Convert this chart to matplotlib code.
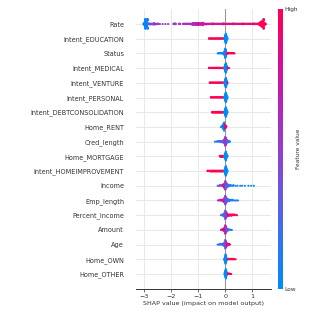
import numpy as np
import matplotlib
matplotlib.use("Agg")
import matplotlib.pyplot as plt
from matplotlib.colors import LinearSegmentedColormap

# feature names, top row first
features = ["Rate", "Intent_EDUCATION", "Status", "Intent_MEDICAL", "Intent_VENTURE",
            "Intent_PERSONAL", "Intent_DEBTCONSOLIDATION", "Home_RENT", "Cred_length",
            "Home_MORTGAGE", "Intent_HOMEIMPROVEMENT", "Income", "Emp_length",
            "Percent_income", "Amount", "Age", "Home_OWN", "Home_OTHER"]

# (shap value, feature value 0..1, number of points)
rate = [(-3.00, 0.02, 3), (-2.97, 0.03, 10), (-2.94, 0.02, 22), (-2.91, 0.03, 30), (-2.88, 0.05, 22),
        (-2.85, 0.08, 10), (-2.82, 0.15, 4), (-2.78, 0.4, 3), (-2.74, 0.45, 3), (-2.70, 0.5, 3),
        (-2.66, 0.5, 3), (-2.62, 0.5, 3), (-2.58, 0.55, 3), (-2.54, 0.55, 3), (-2.50, 0.55, 2),
        (-2.46, 0.5, 2), (-2.40, 0.55, 1), (-2.30, 0.55, 1), (-2.20, 0.55, 1), (-2.10, 0.55, 1),
        (-1.90, 0.55, 2), (-1.86, 0.55, 2), (-1.82, 0.55, 2), (-1.70, 0.6, 2), (-1.66, 0.6, 2),
        (-1.55, 0.6, 2), (-1.51, 0.6, 2), (-1.47, 0.6, 2), (-1.43, 0.6, 2), (-1.39, 0.6, 2),
        (-1.35, 0.6, 2), (-1.31, 0.6, 2), (-1.27, 0.6, 3), (-1.23, 0.62, 3), (-1.19, 0.62, 4),
        (-1.15, 0.65, 5), (-1.11, 0.65, 6), (-1.07, 0.68, 7), (-1.03, 0.7, 7), (-0.99, 0.7, 7),
        (-0.95, 0.72, 6), (-0.91, 0.72, 5), (-0.87, 0.72, 5), (-0.83, 0.72, 4), (-0.79, 0.74, 4),
        (-0.75, 0.74, 3), (-0.71, 0.74, 3), (-0.67, 0.75, 3), (-0.63, 0.75, 2), (-0.59, 0.75, 2),
        (-0.55, 0.75, 2), (-0.51, 0.76, 2), (-0.47, 0.76, 2), (-0.43, 0.76, 2), (-0.39, 0.76, 2),
        (-0.35, 0.77, 2), (-0.31, 0.77, 2), (-0.27, 0.77, 2), (-0.23, 0.78, 2), (-0.19, 0.78, 2),
        (-0.15, 0.78, 2), (-0.11, 0.78, 2), (-0.07, 0.79, 2), (-0.03, 0.79, 2), (0.01, 0.8, 2),
        (0.05, 0.8, 2), (0.09, 0.8, 2), (0.13, 0.8, 2), (0.17, 0.81, 2), (0.21, 0.81, 2),
        (0.25, 0.82, 2), (0.29, 0.82, 2), (0.33, 0.82, 2), (0.37, 0.83, 2), (0.41, 0.83, 2),
        (0.45, 0.83, 2), (0.49, 0.84, 2), (0.53, 0.84, 2), (0.57, 0.85, 2), (0.61, 0.85, 2),
        (0.65, 0.86, 2), (0.69, 0.86, 2), (0.73, 0.87, 2), (0.77, 0.87, 2), (0.81, 0.88, 2),
        (0.85, 0.88, 2), (0.89, 0.89, 2), (0.93, 0.89, 2), (0.97, 0.9, 2), (1.01, 0.9, 2),
        (1.05, 0.91, 2), (1.09, 0.92, 2), (1.13, 0.92, 2), (1.17, 0.93, 2), (1.21, 0.94, 3),
        (1.25, 0.96, 6), (1.29, 0.97, 12), (1.33, 0.98, 17), (1.37, 0.99, 18), (1.41, 1.0, 14),
        (1.45, 1.0, 7), (1.48, 1.0, 3)]
intent_education = [(-0.60, 1, 2), (-0.56, 1, 2), (-0.52, 1, 2), (-0.48, 1, 2), (-0.44, 1, 2),
                    (-0.40, 1, 2), (-0.36, 1, 2), (-0.32, 1, 2), (-0.28, 1, 2), (-0.24, 1, 2),
                    (-0.20, 1, 2), (-0.16, 1, 2), (-0.12, 1, 2), (-0.08, 1, 2), (-0.04, 0, 3),
                    (-0.02, 0, 8), (0.00, 0, 18), (0.02, 0, 26), (0.04, 0, 16), (0.06, 0, 6),
                    (0.08, 0, 2)]
status = [(-0.28, 0, 1), (-0.24, 0, 2), (-0.20, 0, 2), (-0.16, 0, 2), (-0.12, 0, 2), (-0.08, 0, 3),
          (-0.04, 0, 6), (-0.02, 0, 12), (0.00, 0.05, 22), (0.02, 0.1, 16), (0.04, 0.2, 6),
          (0.07, 1, 3), (0.10, 1, 2), (0.14, 1, 2), (0.18, 1, 2), (0.22, 1, 2), (0.26, 1, 2),
          (0.30, 1, 2), (0.34, 1, 1)]
intent_medical = [(-0.60, 1, 2), (-0.56, 1, 2), (-0.52, 1, 2), (-0.48, 1, 2), (-0.44, 1, 2),
                  (-0.40, 1, 2), (-0.36, 1, 2), (-0.32, 1, 2), (-0.28, 1, 2), (-0.24, 1, 2),
                  (-0.20, 1, 2), (-0.16, 1, 2), (-0.12, 1, 2), (-0.08, 1, 2), (-0.04, 0, 3),
                  (-0.02, 0, 8), (0.00, 0, 18), (0.02, 0, 26), (0.04, 0, 16), (0.06, 0, 6),
                  (0.08, 1, 2), (0.11, 1, 2), (0.14, 1, 1)]
intent_venture = [(-0.57, 1, 2), (-0.53, 1, 2), (-0.49, 1, 2), (-0.45, 1, 2), (-0.41, 1, 2),
                  (-0.37, 1, 2), (-0.33, 1, 2), (-0.29, 1, 2), (-0.25, 1, 2), (-0.21, 1, 2),
                  (-0.17, 1, 2), (-0.13, 1, 2), (-0.09, 1, 2), (-0.04, 0, 3), (-0.02, 0, 8),
                  (0.00, 0, 18), (0.02, 0, 26), (0.04, 0, 16), (0.06, 0, 6), (0.08, 1, 2)]
intent_personal = [(-0.53, 1, 2), (-0.49, 1, 2), (-0.45, 1, 2), (-0.41, 1, 2), (-0.37, 1, 2),
                   (-0.33, 1, 2), (-0.29, 1, 2), (-0.25, 1, 2), (-0.21, 1, 2), (-0.17, 1, 2),
                   (-0.13, 1, 2), (-0.09, 1, 2), (-0.04, 0, 3), (-0.02, 0, 8), (0.00, 0, 18),
                   (0.02, 0, 26), (0.04, 0, 16), (0.06, 0, 6), (0.08, 0, 2)]
intent_debtconsolidation = [(-0.48, 1, 3), (-0.44, 1, 3), (-0.40, 1, 3), (-0.36, 1, 3),
                            (-0.32, 1, 3), (-0.28, 1, 3), (-0.24, 1, 3), (-0.20, 1, 3),
                            (-0.16, 1, 3), (-0.12, 1, 3), (-0.08, 1, 3), (-0.04, 0, 3),
                            (-0.02, 0, 8), (0.00, 0, 18), (0.02, 0, 26), (0.04, 0, 16),
                            (0.06, 0, 6), (0.08, 0, 2)]
home_rent = [(-0.16, 0, 1), (-0.13, 0, 2), (-0.10, 0, 4), (-0.07, 0, 8), (-0.04, 0, 12),
             (-0.02, 0.9, 6), (0.00, 1, 4), (0.02, 1, 3), (0.04, 0.8, 2)]
cred_length = [(-0.38, 0.1, 1), (-0.33, 0.1, 1), (-0.28, 0.15, 2), (-0.24, 0.2, 2), (-0.20, 0.2, 2),
               (-0.16, 0.25, 3), (-0.12, 0.3, 3), (-0.08, 0.35, 4), (-0.04, 0.5, 8), (0.00, 0.6, 16),
               (0.03, 0.55, 12), (0.06, 0.4, 6), (0.09, 0.2, 4), (0.12, 0.1, 3), (0.15, 0.05, 2),
               (0.17, 0.05, 1)]
home_mortgage = [(-0.20, 0.95, 2), (-0.17, 1, 3), (-0.14, 1, 3), (-0.11, 1, 3), (-0.08, 1, 3),
                 (-0.05, 0.9, 3), (-0.03, 0, 5), (0.00, 0, 12), (0.02, 0, 18), (0.04, 0, 10),
                 (0.06, 0, 4), (0.08, 0, 2)]
intent_homeimprovement = [(-0.65, 1, 2), (-0.62, 1, 2), (-0.55, 1, 3), (-0.51, 1, 3), (-0.47, 1, 3),
                          (-0.43, 1, 3), (-0.39, 1, 3), (-0.35, 1, 3), (-0.31, 1, 3), (-0.27, 1, 3),
                          (-0.23, 1, 3), (-0.19, 1, 3), (-0.15, 1, 3), (-0.11, 1, 3), (-0.08, 1, 3),
                          (-0.04, 0, 3), (-0.02, 0, 8), (0.00, 0, 18), (0.02, 0, 26), (0.04, 0, 16),
                          (0.06, 0, 6), (0.08, 0, 2)]
income = [(-0.28, 0.3, 1), (-0.24, 0.3, 1), (-0.20, 0.35, 2), (-0.16, 0.4, 2), (-0.12, 0.6, 2),
          (-0.08, 0.7, 4), (-0.04, 0.8, 7), (0.00, 0.6, 14), (0.03, 0.4, 10), (0.06, 0.3, 6),
          (0.09, 0.2, 4), (0.12, 0.15, 3), (0.16, 0.1, 2), (0.20, 0.1, 2), (0.25, 0.08, 1),
          (0.30, 0.05, 2), (0.38, 0.05, 1), (0.45, 0.05, 1), (0.55, 0.03, 1), (0.62, 0.03, 1),
          (0.72, 0.02, 1), (0.85, 0.02, 1), (0.95, 0.02, 1), (1.05, 0.01, 1)]
emp_length = [(-0.27, 0.6, 1), (-0.22, 0.7, 2), (-0.18, 0.7, 2), (-0.14, 0.7, 2), (-0.10, 0.75, 3),
              (-0.06, 0.7, 5), (-0.03, 0.6, 8), (0.00, 0.5, 14), (0.03, 0.4, 10), (0.06, 0.3, 6),
              (0.10, 0.2, 4), (0.14, 0.15, 3), (0.18, 0.1, 2), (0.22, 0.1, 2), (0.27, 0.05, 2),
              (0.32, 0.05, 1), (0.37, 0.05, 1), (0.42, 0.05, 1), (0.47, 0.05, 1)]
percent_income = [(-0.16, 0.2, 1), (-0.12, 0.2, 2), (-0.08, 0.15, 3), (-0.04, 0.15, 6), (0.00, 0.3, 14),
                  (0.03, 0.5, 10), (0.06, 0.7, 6), (0.10, 0.8, 3), (0.14, 0.85, 3), (0.18, 0.9, 2),
                  (0.22, 0.95, 3), (0.26, 0.95, 2), (0.30, 1, 2), (0.35, 1, 2), (0.40, 1, 1),
                  (0.43, 1, 1)]
amount = [(-0.16, 0.9, 1), (-0.12, 0.85, 2), (-0.08, 0.8, 3), (-0.04, 0.8, 6), (0.00, 0.7, 14),
          (0.03, 0.6, 10), (0.06, 0.4, 5), (0.10, 0.2, 3), (0.14, 0.1, 2), (0.18, 0.05, 1),
          (0.22, 0.05, 1), (0.24, 0.05, 1)]
age = [(-0.28, 0.1, 1), (-0.24, 0.1, 1), (-0.20, 0.15, 2), (-0.16, 0.15, 2), (-0.12, 0.2, 2),
       (-0.08, 0.25, 3), (-0.04, 0.3, 6), (0.00, 0.4, 14), (0.03, 0.5, 10), (0.06, 0.7, 5),
       (0.09, 0.85, 3), (0.12, 0.9, 2), (0.15, 0.95, 2), (0.17, 1, 1)]
home_own = [(-0.03, 0, 5), (-0.01, 0, 12), (0.01, 0, 22), (0.03, 0, 14), (0.05, 0, 5),
            (0.10, 1, 2), (0.14, 1, 2), (0.18, 1, 2), (0.22, 1, 2), (0.26, 1, 2), (0.30, 1, 2),
            (0.34, 1, 1), (0.38, 1, 1)]
home_other = [(-0.02, 0, 6), (0.00, 0, 14), (0.02, 0, 22), (0.04, 0, 12), (0.06, 0, 4),
              (0.10, 1, 2), (0.13, 1, 2), (0.16, 1, 2), (0.19, 1, 1), (0.22, 1, 1)]

rows = [rate, intent_education, status, intent_medical, intent_venture, intent_personal,
        intent_debtconsolidation, home_rent, cred_length, home_mortgage, intent_homeimprovement,
        income, emp_length, percent_income, amount, age, home_own, home_other]

xticks = [-3, -2, -1, 0, 1]

cmap = LinearSegmentedColormap.from_list(
    "red_blue", ["#008bfb", "#3a6ff0", "#7a4fd8", "#a92ebf", "#d20f95", "#ff0052"])


def beeswarm(shaps, row_height=0.4, nbins=100):
    # same stacking as shap's summary plot
    quant = np.round(nbins * (shaps - shaps.min()) / (shaps.max() - shaps.min() + 1e-8))
    inds = np.argsort(quant, kind="stable")
    layer = 0
    last = -1
    ys = np.zeros(len(shaps))
    for i in inds:
        if quant[i] != last:
            layer = 0
        ys[i] = np.ceil(layer / 2) * ((layer % 2) * 2 - 1)
        layer += 1
        last = quant[i]
    ys *= 0.9 * (row_height / np.max(ys + 1))
    return ys


fig = plt.figure(figsize=(3.24, 3.15), dpi=100)
ax = fig.add_axes([136 / 324, 26.3 / 315, 135 / 324, 279.4 / 315])

n = len(features)
for k, data in enumerate(rows):
    pos = n - 1 - k
    arr = np.array(data)
    shaps = np.repeat(arr[:, 0], arr[:, 2].astype(int))
    vals = np.repeat(arr[:, 1], arr[:, 2].astype(int))
    ys = beeswarm(shaps)
    ax.scatter(shaps, pos + ys, c=vals, cmap=cmap, vmin=0, vmax=1, s=2.2, linewidths=0,
               zorder=3)

ax.axvline(0, color="#999999", lw=0.8, zorder=1)
ax.set_xlim(-3.28, 1.68)
ax.set_ylim(-1, n)
ax.set_yticks(range(n))
ax.set_yticklabels(features[::-1], fontsize=4.7, color="#333333")
ax.set_xticks(xticks)
ax.set_xticklabels(["\u2212%d" % abs(t) if t < 0 else str(t) for t in xticks],
                   fontsize=4.6, color="#333333")
ax.tick_params(axis="y", length=0, pad=8.5)
ax.tick_params(axis="x", length=2, width=0.5, pad=1.5, color="#333333")
ax.grid(True, color="#e4e4e4", lw=0.6, zorder=0)
ax.set_axisbelow(True)
for s in ["left", "right", "top"]:
    ax.spines[s].set_visible(False)
ax.spines["bottom"].set_color("#333333")
ax.spines["bottom"].set_linewidth(0.7)
ax.set_xlabel("SHAP value (impact on model output)", fontsize=4.6, color="#333333", labelpad=2)

cax = fig.add_axes([278 / 324, 26.3 / 315, 4.5 / 324, 279.4 / 315])
sm = plt.cm.ScalarMappable(cmap=cmap, norm=plt.Normalize(0, 1))
cb = fig.colorbar(sm, cax=cax, ticks=[0, 1])
cb.set_ticklabels(["Low", "High"])
cb.ax.tick_params(length=0, labelsize=4.2, pad=1, labelcolor="#333333")
cb.outline.set_visible(False)
cb.set_label("Feature value", size=4.2, labelpad=-1, color="#333333")

fig.savefig("out.png", dpi=100)
